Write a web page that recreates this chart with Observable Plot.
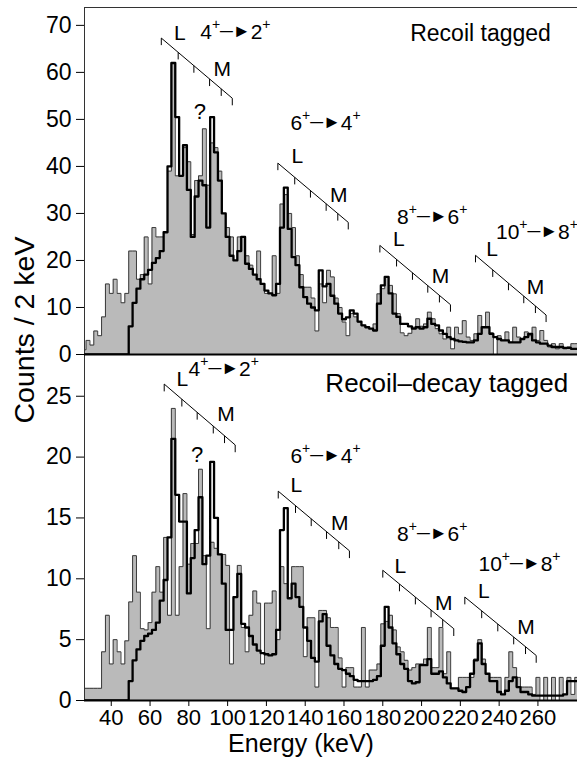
<!DOCTYPE html>
<html><head><meta charset="utf-8">
<script src="https://cdn.jsdelivr.net/npm/d3@7"></script>
<script src="https://cdn.jsdelivr.net/npm/@observablehq/plot@0.6"></script>
<style>
body{margin:0;background:#fff;}
#wrap{position:relative;width:577px;height:772px;font-family:"Liberation Sans",Arial,Helvetica,sans-serif;color:#000;}
#top,#bot{position:absolute;left:0;}
#bot{top:354px;}
#top{top:0;}
#ylab{position:absolute;left:24px;top:330px;transform:translate(-50%,-50%) rotate(-90deg);font-size:28.5px;white-space:nowrap;}
#xlab{position:absolute;left:301px;top:729px;transform:translateX(-50%);font-size:25px;white-space:nowrap;}
</style></head><body>
<div id="wrap"><div id="bot"></div><div id="top"></div><div id="ylab">Counts / 2 keV</div><div id="xlab">Energy (keV)</div></div>
<script>
// 2 keV bins, first bin starts at 25 keV
const binStart = 25, binWidth = 2;

const topGray = [1,3,2,5,4,8,15,13,16,13,
 11,13,22,22,16,17,25,15,27,25,
 25,26,39,62,38,38,44,41,25.5,37,
 38,48,36,45,44,39,30,27,25,20,
 25,25,21,19,17,22,15,13,13,21,
 13,32,34,30,27,21,17,14.3,14.3,12,
 5,15,11,17.9,16.5,12,10,6.9,4,8.7,
 8,6.9,6.2,5.8,5.5,6.5,12.9,14,16.5,14.7,
 12.9,8.7,4.6,4,4.5,5.8,7.6,6,6.5,9,
 7.6,5.5,4.4,3.3,5.8,1.2,5.8,4.4,7.2,3.7,
 3,4.4,8.3,5.8,9,4.6,0,4,3,4.8,
 2.6,5.8,3.7,3.3,4.8,4,5.8,3,5.1,3,
 1.6,2.3,1.2,2.3,1.2,1.6,2.3,2.3];

const topFit = [0,0,0,0,0,0,0,0,0,0,
 0,0,6,11,14,16,17,18,19.5,20.5,
 22,26,40,62,50.5,38,44.5,35,25,33.6,
 37,36,27,50.5,43,37,30,25,21,20,
 22,25,19.3,18.2,17,16,15,13.6,13,12.6,
 15,27,35.5,26.7,20.7,19,14.3,12.2,10.8,10,
 9.4,17.9,14.5,15,12.5,10.8,8.7,7.5,7.9,9.4,
 8.7,7,6.2,5.8,5.5,5.1,10.8,14.7,16.5,13,
 8.7,8,6.5,6.5,6,5.5,5.8,5.5,5.8,7.6,
 6.5,6.2,5.1,4.4,3.7,3.3,3,2.8,2.7,2.6,
 2.6,3,4.4,5.8,5.8,4.4,3.7,3.3,3,3,
 2.6,2.6,2.6,3.3,3.7,4.4,3,2.6,2.3,2.3,
 1.9,1.6,1.6,1.6,1.4,1.4,1.2,1.2];

const botGray = [1,1,1,1,1,4,7,3,5,4,
 3,4.9,8.1,11.9,8.9,5.9,5.8,6.4,8.9,11,
 8.9,13.4,7,24,7,11,17,11.2,12.9,12.9,
 19,11.9,5.9,13,12.5,12,12,11.1,3,8.5,
 11.1,6,4,7,9,8,3,8,8,9,
 5,11,9.6,8.4,11,11,11,3.6,6.8,6.8,
 1.1,7.4,7.4,6.8,6,6,3.5,1.1,2.7,2.7,
 1.1,1.1,6,1.1,2.5,2.5,3,6.3,6.5,7,
 5.8,4.4,4,3.3,2.5,2.7,3,3,3.4,6,
 2.7,2.7,6,2.2,4,1,1,1.9,1.9,1.9,
 1.9,3.4,5,3.4,2.2,1.9,1.9,1.9,0.5,1.9,
 4,2.7,1.9,1.1,1.1,1.1,0.5,1.9,0,1.9,
 0,1.9,0,1.9,0.5,1.9,0.5,1.9];

const botFit = [0,0,0,0,0,0,0,0,0,0,
 0,0,1.6,3.3,4.2,4.9,5.3,5.5,5.8,6.4,
 8.2,9.9,13.4,21.5,16.9,14.7,14.7,8.8,11.7,14,
 16.7,11.2,11.9,19.6,15,12,9.6,5.8,5.8,8.5,
 10.4,6.3,6,5.3,4.6,4.1,3.9,3.8,3.7,3.8,
 5.8,14,15.8,8.4,9.6,8.5,7.7,6,4.9,3.5,
 3.2,6.5,7.1,4.5,3.7,3,2.6,2.5,2.2,2,
 1.7,1.6,1.6,1.6,1.6,1.7,2,4.5,7.7,6,
 4.7,3.8,3,2.6,1.6,1.4,1.5,2.9,2.9,3.4,
 2.2,2.2,2.4,1.9,1.4,1,1,0.8,0.7,1.1,
 2.2,3.3,4.7,3,2.2,1.6,1.6,0.7,0.5,0.8,
 1.6,1.9,1.1,0.7,0.7,0.5,0.4,0.4,0.4,0.4,
 0.4,0.4,0.4,0.4,0.5,1.6,1.6,1.6];

const xTicks = [40,60,80,100,120,140,160,180,200,220,240,260];
const topYTicks = [0,10,20,30,40,50,60,70];
const botYTicks = [0,5,10,15,20,25];

// conversion-electron marker lines: start/end (keV, counts), L/M and intermediate tick energies, labels
const transitions = ["4⁺─►2⁺","6⁺─►4⁺","8⁺─►6⁺","10⁺─►8⁺"];
const topMarkers = [
 {e1:65.8,v1:67.3,e2:102.4,v2:54.5,ticks:[74.5,82.6,90.7,96.7],Lx:75.4,Ly:68.4,Mx:97.2,My:60.6,tx:104,ty:68.6},
 {e1:125.9,v1:40.7,e2:162.2,v2:28.1,ticks:[134.6,142.7,150.8,156.8],Lx:135.9,Ly:42.2,Mx:157.3,My:33.8,tx:150.5,ty:49.2},
 {e1:178.5,v1:23.2,e2:214.9,v2:10.6,ticks:[187.1,195.3,203.2,209.2],Lx:188.3,Ly:24.5,Mx:209.7,My:16.7,tx:205.5,ty:29.1},
 {e1:227.8,v1:21.1,e2:264.2,v2:8.4,ticks:[236.7,244.8,252.7,258.7],Lx:236.4,Ly:22.3,Mx:258.7,My:14.2,tx:259.5,ty:25.9}
];
const botMarkers = [
 {e1:67.3,v1:26.0,e2:103.9,v2:21.0,ticks:[76.4,84.3,92.6,98.4],Lx:76.7,Ly:26.4,Mx:99.1,My:23.5,tx:98,ty:27.2},
 {e1:126.1,v1:17.2,e2:162.8,v2:12.3,ticks:[135,143.1,151,157.3],Lx:135.4,Ly:17.7,Mx:157.8,My:14.6,tx:150.5,ty:20.1},
 {e1:180,v1:10.7,e2:216.6,v2:5.9,ticks:[188.6,196.8,204.9,210.9],Lx:189.1,Ly:11.05,Mx:211.4,My:8.0,tx:205.5,ty:13.7},
 {e1:222.3,v1:8.5,e2:259.1,v2:3.7,ticks:[231,239.3,247.5,253.6],Lx:232.1,Ly:9.0,Mx:253.9,My:6.0,tx:250.5,ty:11.2}
];
const panelTitles = ["Recoil tagged","Recoil–decay tagged"];
const titlePos = [{x:230.4,y:68.3,size:23},{x:213,y:26.0,size:26}];
const questionPos = [{x:85.7,y:51.6},{x:84.3,y:20.2}];

const FONT = "Liberation Sans, Arial, Helvetica, sans-serif";
const SVGNS = "http://www.w3.org/2000/svg";

function steps(vals){
  const pts = vals.map((v,i)=>({e: binStart + i*binWidth, v}));
  pts.push({e: binStart + vals.length*binWidth, v: vals[vals.length-1]});
  return pts;
}

function tickRows(markers, len){
  const rows = [];
  for (const m of markers){
    const es = [m.e1, ...m.ticks, m.e2];
    for (const e of es){
      const y = m.v1 + (m.v2 - m.v1) * (e - m.e1) / (m.e2 - m.e1);
      rows.push({e, y, y2: y - len});
    }
  }
  return rows;
}

// typeset "4⁺─►2⁺" as number, raised +, filled arrow, number, raised +
function styleTransitions(svg){
  svg.querySelectorAll("text").forEach(t => {
    const s = t.textContent;
    if (!s.includes("─►")) return;
    const [a, b] = s.split("─►");
    const parts = [
      {s: a.replace("⁺","")},
      {s: "+", size: 14, dy: -10},
      {s: "─►", size: 18, dy: 8},
      {s: b.replace("⁺",""), dy: 2},
      {s: "+", size: 14, dy: -10}
    ];
    t.textContent = "";
    for (const p of parts){
      const ts = document.createElementNS(SVGNS, "tspan");
      ts.textContent = p.s;
      if (p.size) ts.setAttribute("font-size", p.size);
      if (p.dy) ts.setAttribute("dy", p.dy);
      t.append(ts);
    }
  });
}

function panel({gray, fit, yMax, yTicks, height, marginTop, marginBottom, markers, tickLen, idx, xAxis}){
  const mk = markers.map((m,i)=>({...m, label: transitions[i]}));
  const marks = [
    Plot.areaY(steps(gray), {x:"e", y:"v", curve:"step-after", fill:"#bababa", clip:true}),
    Plot.lineY(steps(gray), {x:"e", y:"v", curve:"step-after", stroke:"#3a3a3a", strokeWidth:1, clip:true}),
    Plot.lineY(steps(fit), {x:"e", y:"v", curve:"step-after", stroke:"#000", strokeWidth:2.3, clip:true}),
    Plot.frame({stroke:"#333", strokeWidth:1}),
    Plot.ruleY([0], {stroke:"#000", strokeWidth:2}),
    Plot.axisY({ticks: yTicks, tickSize: 8, tickPadding: 5, fontSize: 23, label: null}),
    Plot.link(mk, {x1:"e1", y1:"v1", x2:"e2", y2:"v2", stroke:"#000", strokeWidth:1}),
    Plot.link(tickRows(mk, tickLen), {x1:"e", x2:"e", y1:"y", y2:"y2", stroke:"#000", strokeWidth:1}),
    Plot.text(mk, {x:"Lx", y:"Ly", text:()=>"L", fontSize:21, fill:"#000"}),
    Plot.text(mk, {x:"Mx", y:"My", text:()=>"M", fontSize:21, fill:"#000"}),
    Plot.text(mk, {x:"tx", y:"ty", text:"label", fontSize:21, fill:"#000"}),
    Plot.text([titlePos[idx]], {x:"x", y:"y", text:()=>panelTitles[idx], fontSize:titlePos[idx].size, fill:"#000"}),
    Plot.text([questionPos[idx]], {x:"x", y:"y", text:()=>"?", fontSize:22, fill:"#000"})
  ];
  if (xAxis) marks.push(Plot.axisX({ticks: xTicks, tickSize: 6, tickPadding: 3, fontSize: 22, label: null}));
  else marks.push(Plot.axisX({ticks: [], label: null}));
  const svg = Plot.plot({
    width: 577, height, marginLeft: 84, marginRight: 0, marginTop, marginBottom,
    x: {domain: [26.2, 280.4]},
    y: {domain: [0, yMax]},
    style: {fontFamily: FONT, fontSize: "21px", background: "transparent", color: "#000", overflow: "visible"},
    marks
  });
  styleTransitions(svg);
  return svg;
}

document.getElementById("top").append(panel({gray: topGray, fit: topFit, yMax: 73.8, yTicks: topYTicks,
  height: 355, marginTop: 7, marginBottom: 1, markers: topMarkers, tickLen: 1.5, idx: 0, xAxis: false}));
document.getElementById("bot").append(panel({gray: botGray, fit: botFit, yMax: 28.43, yTicks: botYTicks,
  height: 418, marginTop: 0, marginBottom: 72, markers: botMarkers, tickLen: 0.6, idx: 1, xAxis: true}));
</script>
</body></html>
